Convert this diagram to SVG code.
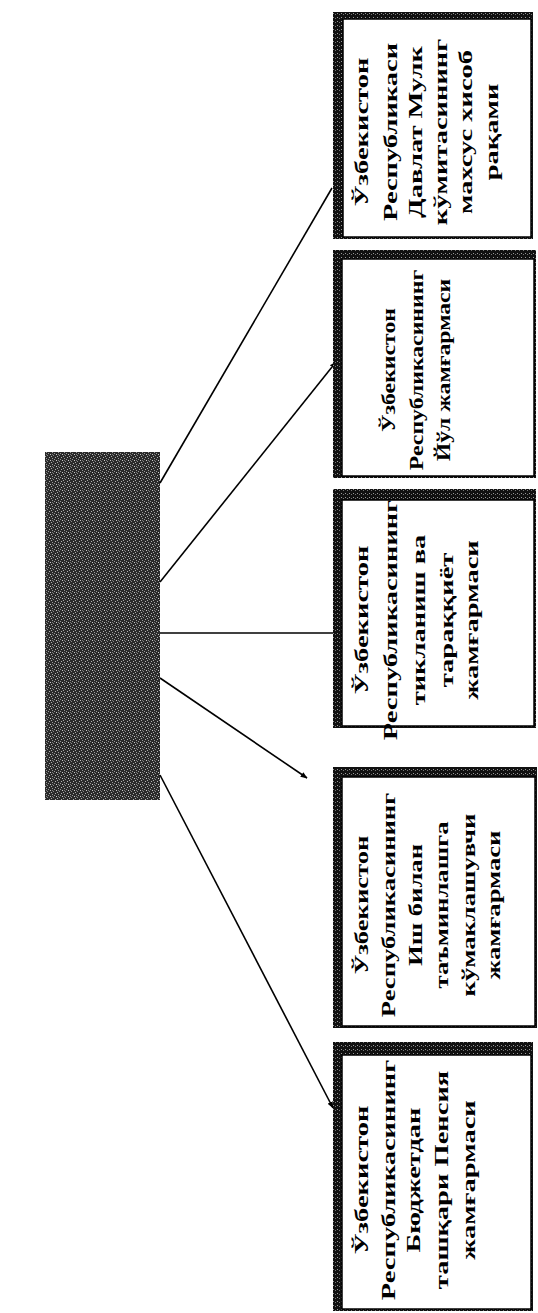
<svg xmlns="http://www.w3.org/2000/svg" width="538" height="1313" viewBox="0 0 538 1313">
<defs>
<pattern id="noise" width="6" height="6" patternUnits="userSpaceOnUse">
<rect width="6" height="6" fill="#2a2a2a"/>
<rect x="1" y="1" width="1" height="1" fill="#b0b0b0"/>
<rect x="4" y="2" width="1" height="1" fill="#9a9a9a"/>
<rect x="2" y="4" width="1" height="1" fill="#c8c8c8"/>
<rect x="5" y="5" width="1" height="1" fill="#888"/>
<rect x="0" y="3" width="1" height="1" fill="#999"/>
<rect x="3" y="0" width="1" height="1" fill="#aaa"/>
<rect x="4" y="4" width="1" height="1" fill="#777"/>
</pattern>
<pattern id="band" width="4" height="4" patternUnits="userSpaceOnUse">
<rect width="4" height="4" fill="#111"/>
<rect x="1" y="1" width="1" height="1" fill="#999"/>
<rect x="3" y="2" width="1" height="1" fill="#777"/>
</pattern>
<marker id="arr" viewBox="0 0 10 10" refX="9" refY="5" markerWidth="7" markerHeight="7" orient="auto" markerUnits="userSpaceOnUse">
<path d="M0,1 L10,5 L0,9 Z" fill="#000"/>
</marker>
</defs>
<style>
.frame{fill:url(#band)}
.inner{fill:#fff;stroke:#000;stroke-width:1.5}
.t{font-family:"Liberation Serif","Times New Roman",serif;font-weight:bold;font-size:19px;fill:#000;text-anchor:middle}
.c{stroke:#000;stroke-width:1.6;fill:none}
</style>

<g id="center">
<rect x="45" y="452" width="115" height="348" fill="url(#noise)"/>
</g>

<g id="connectors">
<line class="c" x1="160" y1="483" x2="332" y2="188"/>
<line class="c" x1="160" y1="582" x2="336" y2="362" marker-end="url(#arr)"/>
<line class="c" x1="160" y1="633" x2="340" y2="633"/>
<line class="c" x1="160" y1="678" x2="307" y2="778" marker-end="url(#arr)"/>
<line class="c" x1="160" y1="775" x2="333" y2="1108" marker-end="url(#arr)"/>
</g>

<g id="box1">
<rect class="frame" x="333" y="12" width="200" height="227"/>
<rect class="inner" x="343" y="19" width="188" height="218"/>
<g class="t">
<text transform="translate(368,132) rotate(-90) scale(1.5,1)">Ўзбекистон</text>
<text transform="translate(397,132) rotate(-90) scale(1.5,1)">Республикаси</text>
<text transform="translate(422,132) rotate(-90) scale(1.5,1)">Давлат Мулк</text>
<text transform="translate(447,132) rotate(-90) scale(1.5,1)">кўмитасининг</text>
<text transform="translate(472,132) rotate(-90) scale(1.5,1)">махсус хисоб</text>
<text transform="translate(498,132) rotate(-90) scale(1.5,1)">рақами</text>
</g>
</g>

<g id="box2">
<rect class="frame" x="333" y="250" width="203" height="228"/>
<rect class="inner" x="342" y="259" width="192" height="217"/>
<g class="t">
<text transform="translate(395,370) rotate(-90) scale(1.25,1)">Ўзбекистон</text>
<text transform="translate(423,370) rotate(-90) scale(1.25,1)">Республикасининг</text>
<text transform="translate(450,370) rotate(-90) scale(1.25,1)">Йўл жамғармаси</text>
</g>
</g>

<g id="box3">
<rect class="frame" x="333" y="489" width="203" height="239"/>
<rect class="inner" x="342" y="500" width="192" height="226"/>
<g class="t">
<text transform="translate(368,620) rotate(-90) scale(1.5,1)">Ўзбекистон</text>
<text transform="translate(397,620) rotate(-90) scale(1.5,1)">Республикасининг</text>
<text transform="translate(425,620) rotate(-90) scale(1.5,1)">тикланиш ва</text>
<text transform="translate(453,620) rotate(-90) scale(1.5,1)">тараққиёт</text>
<text transform="translate(478,620) rotate(-90) scale(1.5,1)">жамғармаси</text>
</g>
</g>

<g id="box4">
<rect class="frame" x="333" y="767" width="204" height="261"/>
<rect class="inner" x="342" y="777" width="193" height="249"/>
<g class="t">
<text transform="translate(368,905) rotate(-90) scale(1.4,1)">Ўзбекистон</text>
<text transform="translate(395,905) rotate(-90) scale(1.4,1)">Республикасининг</text>
<text transform="translate(422,905) rotate(-90) scale(1.4,1)">Иш билан</text>
<text transform="translate(448,905) rotate(-90) scale(1.4,1)">таъминлашга</text>
<text transform="translate(475,905) rotate(-90) scale(1.4,1)">кўмаклашувчи</text>
<text transform="translate(500,905) rotate(-90) scale(1.4,1)">жамғармаси</text>
</g>
</g>

<g id="box5">
<rect class="frame" x="333" y="1042" width="200" height="269"/>
<rect class="inner" x="342" y="1055" width="189" height="254"/>
<g class="t">
<text transform="translate(368,1180) rotate(-90) scale(1.5,1)">Ўзбекистон</text>
<text transform="translate(395,1180) rotate(-90) scale(1.5,1)">Республикасининг</text>
<text transform="translate(420,1180) rotate(-90) scale(1.5,1)">Бюджетдан</text>
<text transform="translate(448,1180) rotate(-90) scale(1.5,1)">ташқари Пенсия</text>
<text transform="translate(475,1180) rotate(-90) scale(1.5,1)">жамғармаси</text>
</g>
</g>
</svg>
